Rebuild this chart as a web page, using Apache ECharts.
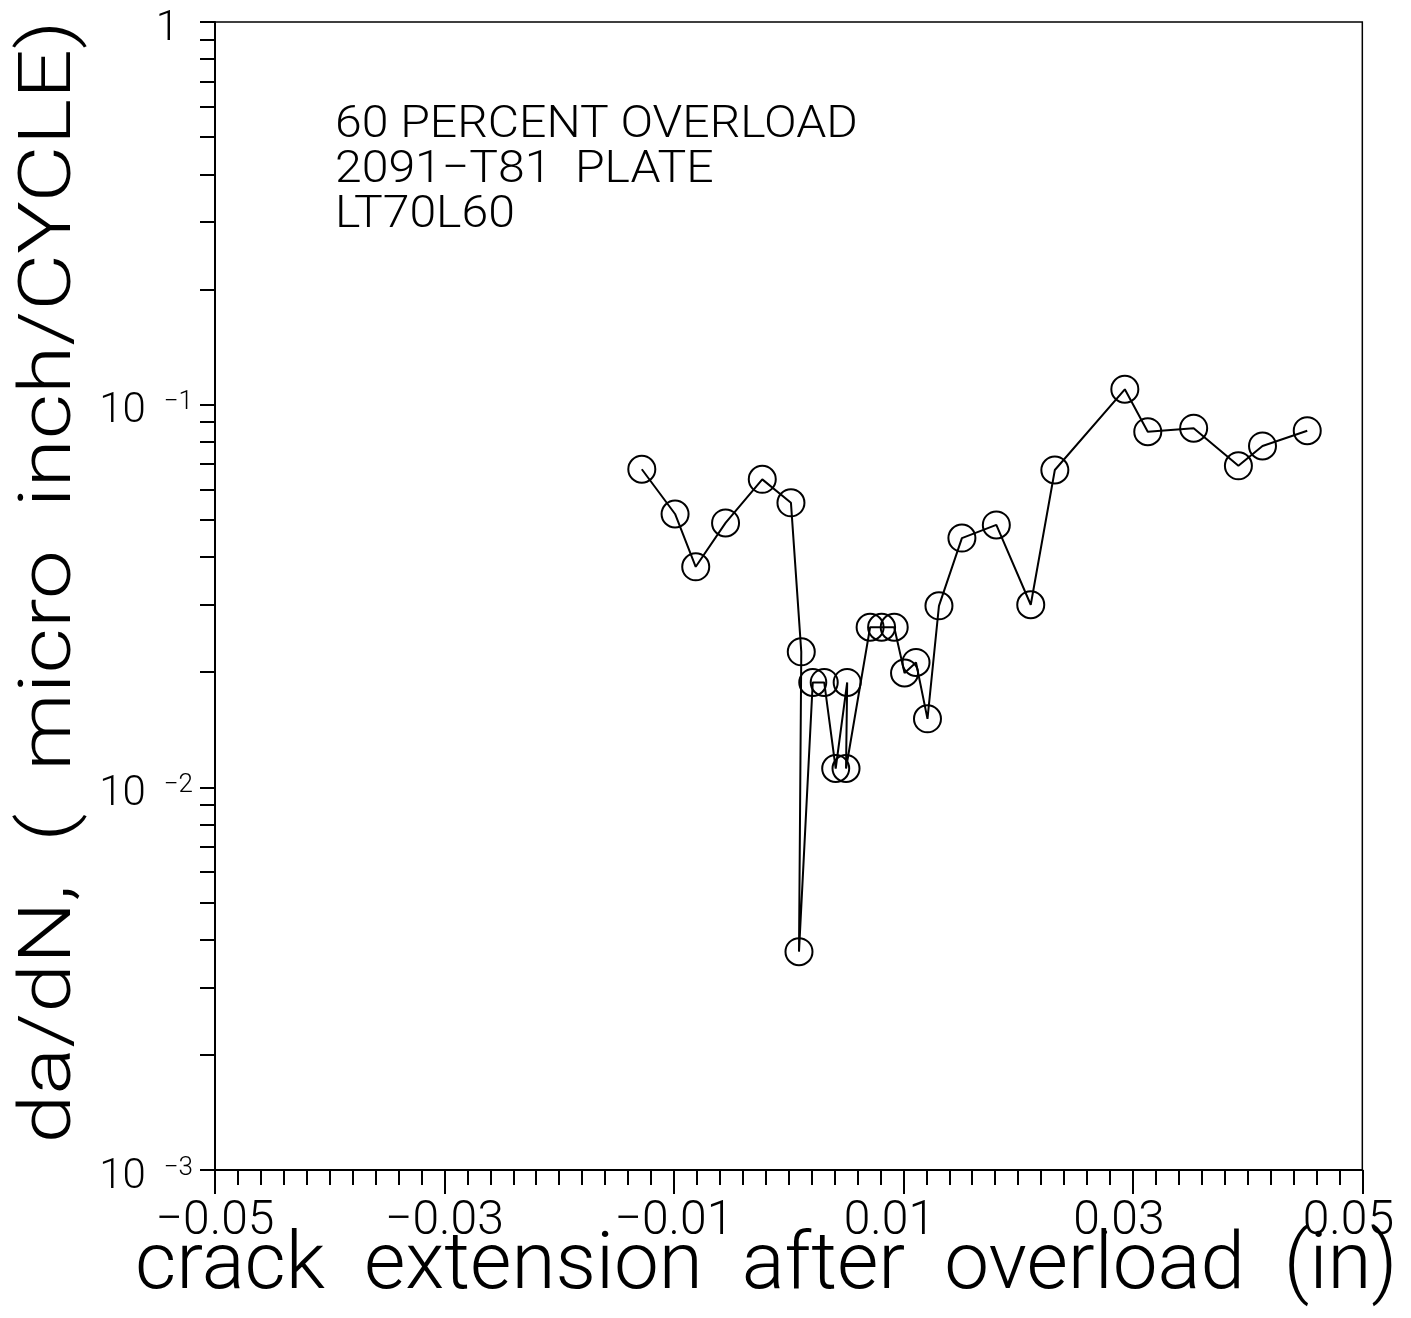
<!DOCTYPE html>
<html>
<head>
<meta charset="utf-8">
<style>
  html, body { margin: 0; padding: 0; background: #fff; }
  #chart { width: 1411px; height: 1318px; }
</style>
<script src="https://cdn.jsdelivr.net/npm/echarts@6/dist/echarts.min.js"></script>
</head>
<body>
<div id="chart"></div>
<script>
// Crack extension after the overload (in) and the measured growth rate da/dN (micro inch/cycle)
const crackExt = [
  -0.0128, -0.0099, -0.0081, -0.0055, -0.0023, 0.0002, 0.0011, 0.0009,
  0.0021, 0.0031, 0.0041, 0.0051, 0.0050, 0.0071, 0.0081, 0.0092,
  0.0101, 0.0111, 0.0121, 0.0131, 0.0151, 0.0181, 0.0211, 0.0232,
  0.0293, 0.0313, 0.0353, 0.0392, 0.0413, 0.0452
];
const dadn = [
  0.0678, 0.0518, 0.0377, 0.0491, 0.0638, 0.0554, 0.0226, 0.00372,
  0.0188, 0.0188, 0.0112, 0.0188, 0.0112, 0.0262, 0.0262, 0.0262,
  0.0199, 0.0212, 0.0151, 0.0298, 0.0448, 0.0485, 0.0300, 0.0675,
  0.1097, 0.0850, 0.0868, 0.0692, 0.0780, 0.0855
];

// Axis tick values and annotation text
const xTickLabels = [-0.05, -0.03, -0.01, 0.01, 0.03, 0.05];
const yTickLabels = [0.001, 0.01, 0.1, 1];
const noteLines = ['60 PERCENT OVERLOAD', '2091\u2212T81  PLATE', 'LT70L60'];

// minor tick positions: every 0.002 in x, 1..9 per decade in y
const xMinorTicks = [];
for (let i = 0; i <= 50; i++) xMinorTicks.push(+(-0.05 + i * 0.002).toFixed(4));
const yMinorTicks = [];
for (let e = -3; e < 0; e++) {
  for (let m = 1; m <= 9; m++) yMinorTicks.push(+(m * Math.pow(10, e)).toPrecision(2));
}
yMinorTicks.push(1);

const FONT = 'Roboto, "DejaVu Sans", sans-serif';
const G = { left: 215, top: 22, width: 1149, height: 1148 };

const chart = echarts.init(document.getElementById('chart'), null, { renderer: 'canvas' });

chart.setOption({
  backgroundColor: '#fff',
  animation: false,
  grid: {
    left: G.left, top: G.top, width: G.width, height: G.height,
    show: true, borderColor: '#000', borderWidth: 1.5, backgroundColor: 'transparent'
  },
  xAxis: [
    {
      type: 'value', min: -0.05, max: 0.05, position: 'bottom',
      axisLine: { show: true, onZero: false, lineStyle: { color: '#000', width: 2 } },
      axisTick: { show: true, customValues: xTickLabels, length: 24, inside: false, lineStyle: { color: '#000', width: 2 } },
      axisLabel: {
        show: true, customValues: xTickLabels, margin: 28, hideOverlap: false,
        formatter: function (v) {
          const s = Math.abs(v).toFixed(2);
          // positive values keep a trailing blank where the sign would sit
          return v < 0 ? '{n|\u2212' + s + '}' : '{n|' + s + '}{sp|}';
        },
        rich: {
          n: { fontFamily: FONT, fontWeight: 300, fontSize: 48, color: '#000' },
          sp: { width: 28 }
        }
      },
      splitLine: { show: false }
    },
    {
      type: 'value', min: -0.05, max: 0.05, position: 'bottom',
      axisLine: { show: false, onZero: false },
      axisTick: { show: true, customValues: xMinorTicks, length: 15, inside: false, lineStyle: { color: '#000', width: 2 } },
      axisLabel: { show: false },
      splitLine: { show: false }
    }
  ],
  yAxis: [
    {
      type: 'log', logBase: 10, min: 0.001, max: 1, position: 'left',
      axisLine: { show: true, onZero: false, lineStyle: { color: '#000', width: 2 } },
      axisTick: { show: true, customValues: yMinorTicks, length: 15, inside: false, lineStyle: { color: '#000', width: 2 } },
      axisLabel: {
        show: true, customValues: yTickLabels, margin: 22, padding: [14, 0, 0, 0],
        formatter: function (v) {
          if (v >= 1) return '{b|1}{gap|}';
          const e = Math.round(Math.log10(v));
          return '{b|10}{s|\u2212' + Math.abs(e) + '}';
        },
        rich: {
          b: { fontFamily: FONT, fontWeight: 300, fontSize: 42, color: '#000' },
          s: { fontFamily: FONT, fontWeight: 300, fontSize: 26, color: '#000', padding: [0, 0, 18, 18] },
          gap: { width: 14 }
        }
      },
      splitLine: { show: false }
    }
  ],
  graphic: [
    {
      type: 'text', left: 135, top: 1228,
      style: { text: 'crack  extension  after  overload  (in)', font: '300 80px ' + FONT, fill: '#000' }
    },
    {
      type: 'text', x: 52, y: 582, rotation: Math.PI / 2, scaleX: 1.22,
      style: {
        text: 'da/dN,  (  micro  inch/CYCLE)', font: '300 72px ' + FONT, fill: '#000',
        align: 'center', verticalAlign: 'middle'
      }
    }
  ].concat(noteLines.map(function (t, i) {
    return {
      type: 'text', x: 335, y: 126 + i * 45, scaleX: 1.07,
      style: { text: t, font: '300 45px ' + FONT, fill: '#000', verticalAlign: 'middle' }
    };
  })),
  series: [
    {
      type: 'line',
      xAxisIndex: 0, yAxisIndex: 0,
      data: crackExt.map(function (x, i) { return [x, dadn[i]]; }),
      symbol: 'circle', symbolSize: 27,
      itemStyle: { color: 'rgba(0,0,0,0)', borderColor: '#000', borderWidth: 2 },
      lineStyle: { color: '#000', width: 2 },
      emphasis: { disabled: true }
    }
  ]
});
</script>
</body>
</html>
